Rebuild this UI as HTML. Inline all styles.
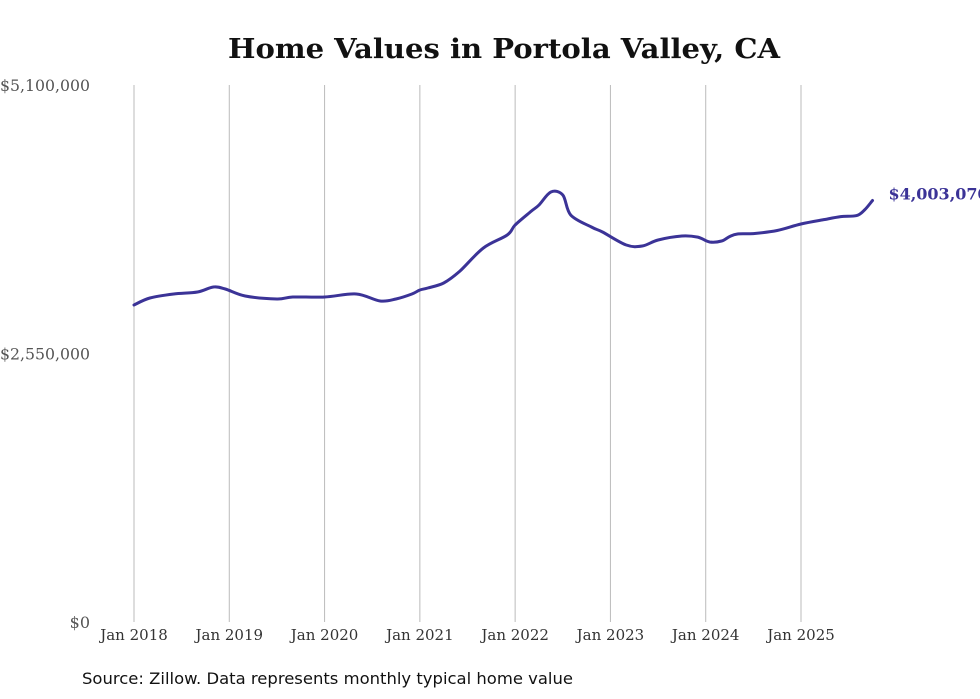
<!DOCTYPE html>
<html><head><meta charset="utf-8"><style>
body{margin:0;background:#fff;width:980px;height:699px;overflow:hidden}
svg{display:block}
</style></head><body>
<svg id="chart" width="980" height="699" xmlns="http://www.w3.org/2000/svg">
<text x="504" y="58" text-anchor="middle" font-family="'DejaVu Serif',serif" font-weight="bold" font-size="27" textLength="552" lengthAdjust="spacingAndGlyphs" fill="#111">Home Values in Portola Valley, CA</text>
<g id="grid"></g><g id="yaxis"></g><g id="xaxis"></g><g id="series"></g>
<text x="82" y="684" font-family="'DejaVu Sans',sans-serif" font-size="16" textLength="491" lengthAdjust="spacingAndGlyphs" fill="#111">Source: Zillow. Data represents monthly typical home value</text>
</svg>
<script>
const months=[0,2,5,8,10,11.5,14,18,20,24,28,31,33,35,36,37,39,41,44,47,48,50,51,52.5,54,55,57.6,59,62,64,66,69,71,72.5,74,75,76,78,81,84,87,89,91,92,93];
const values=[3010500,3077000,3115000,3134000,3181500,3162500,3096000,3067500,3086500,3086500,3115000,3048500,3067500,3115000,3153000,3172000,3219500,3330000,3552000,3675000,3770000,3900000,3960000,4083700,4055000,3865000,3751000,3704000,3580000,3571000,3628000,3665800,3655000,3609000,3618000,3660000,3685000,3689000,3718000,3780000,3823000,3850000,3860000,3913000,4003070];
const yTicks=[0,2550000,5100000];
const yLabels=["$0","$2,550,000","$5,100,000"];
const xTicks=[0,12,24,36,48,60,72,84];
const xLabels=["Jan 2018","Jan 2019","Jan 2020","Jan 2021","Jan 2022","Jan 2023","Jan 2024","Jan 2025"];
const NS="http://www.w3.org/2000/svg";
const X=m=>134+m*(801-134)/84;
const Y=v=>622-v/5100000*537;
function mk(tag,attrs,parent,text){const e=document.createElementNS(NS,tag);for(const k in attrs)e.setAttribute(k,attrs[k]);if(text!==undefined)e.textContent=text;document.getElementById(parent).appendChild(e);return e;}
xTicks.forEach((m,i)=>{
 const l=mk('line',{x1:X(m),x2:X(m),y1:85,y2:622,stroke:'#bbb','stroke-width':1},'grid');
 
 
 const t=mk('text',{x:X(m),y:640,'text-anchor':'middle','font-family':"'DejaVu Serif',serif",'font-size':15,fill:'#333'},'xaxis',xLabels[i]);
 
 
});
yTicks.forEach((v,i)=>{
 const a={x:90,y:Y(v)+6,'text-anchor':'end','font-family':"'DejaVu Serif',serif",'font-size':16,fill:'#555'};
 if(yLabels[i].length>4){a.textLength=90;a.lengthAdjust='spacingAndGlyphs';}
 const t=mk('text',a,'yaxis',yLabels[i]);
 
 
});
const pts=months.map((m,i)=>[X(m),Y(values[i])]);
let d='M'+pts[0][0].toFixed(1)+' '+pts[0][1].toFixed(1);
for(let i=0;i<pts.length-1;i++){
 const p0=pts[Math.max(0,i-1)],p1=pts[i],p2=pts[i+1],p3=pts[Math.min(pts.length-1,i+2)];
 const c1=[p1[0]+(p2[0]-p0[0])/6,p1[1]+(p2[1]-p0[1])/6],c2=[p2[0]-(p3[0]-p1[0])/6,p2[1]-(p3[1]-p1[1])/6];
 d+=` C${c1[0].toFixed(1)} ${c1[1].toFixed(1)} ${c2[0].toFixed(1)} ${c2[1].toFixed(1)} ${p2[0].toFixed(1)} ${p2[1].toFixed(1)}`;
}
const p=mk('path',{d:d,fill:'none',stroke:'#3b3397','stroke-width':3,'stroke-linejoin':'round','stroke-linecap':'round'},'series');


const lm=months[months.length-1],lv=values[values.length-1];
const lab=mk('text',{x:X(lm)+16,y:Y(lv)-1,'font-family':"'DejaVu Serif',serif",'font-weight':'bold','font-size':16,fill:'#3b3397'},'series','$'+lv.toLocaleString('en-US'));


</script>
</body></html>
